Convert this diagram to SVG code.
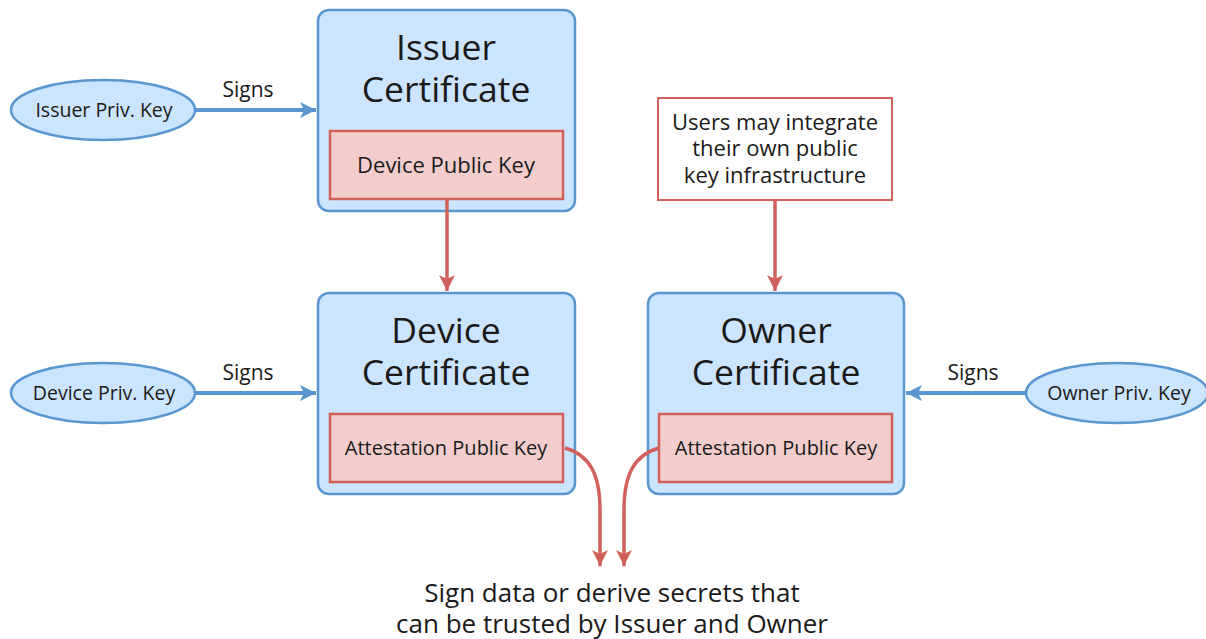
<svg xmlns="http://www.w3.org/2000/svg" width="1206" height="639" viewBox="0 0 1206 639">
<style>
text{font-family:"Open Sans","Noto Sans","DejaVu Sans",sans-serif;fill:#1a1a1a;text-anchor:middle}
.cert{fill:#cce5ff;stroke:#5a96cf;stroke-width:2.5}
.key{fill:#f2cdcc;stroke:#d0605a;stroke-width:2.5}
.note{fill:#fff;stroke:#d0605a;stroke-width:2}
.oval{fill:#cce5ff;stroke:#5a96cf;stroke-width:2.5}
.title{font-size:35.5px}
.inner{font-size:20px}
.small{font-size:19.5px}
.blue{stroke:#5a96cf;stroke-width:4;fill:none}
.red{stroke:#d0605a;stroke-width:3.5;fill:none}
</style>
<defs>
<marker id="ab" markerUnits="userSpaceOnUse" markerWidth="20" markerHeight="20" refX="16" refY="8" orient="auto"><path d="M0,0L16,8L0,16L4,8Z" fill="#5a96cf"/></marker>
<marker id="ar" markerUnits="userSpaceOnUse" markerWidth="20" markerHeight="20" refX="16" refY="8" orient="auto"><path d="M0,0L16,8L0,16L4,8Z" fill="#d0605a"/></marker>
</defs>
<g id="issuer-priv"><ellipse class="oval" cx="103" cy="110" rx="92" ry="30"/><text class="small" x="104" y="117">Issuer Priv. Key</text></g>
<g id="device-priv"><ellipse class="oval" cx="103" cy="393" rx="92" ry="30"/><text class="small" x="104" y="400">Device Priv. Key</text></g>
<g id="owner-priv"><ellipse class="oval" cx="1117" cy="393" rx="91" ry="30"/><text class="small" x="1119" y="400">Owner Priv. Key</text></g>
<g id="issuer-cert">
<rect class="cert" x="318" y="10" width="257" height="201" rx="11"/>
<text class="title" x="446" y="60">Issuer</text>
<text class="title" x="446" y="102">Certificate</text>
<rect class="key" x="330" y="131" width="233" height="68"/>
<text font-size="22" x="446" y="173">Device Public Key</text>
</g>
<g id="device-cert">
<rect class="cert" x="318" y="293" width="257" height="201" rx="11"/>
<text class="title" x="446" y="343">Device</text>
<text class="title" x="446" y="385">Certificate</text>
<rect class="key" x="330" y="414" width="233" height="68"/>
<text class="inner" x="446" y="455">Attestation Public Key</text>
</g>
<g id="owner-cert">
<rect class="cert" x="648" y="293" width="256" height="201" rx="11"/>
<text class="title" x="776" y="343">Owner</text>
<text class="title" x="776" y="385">Certificate</text>
<rect class="key" x="659" y="414" width="233" height="68"/>
<text class="inner" x="776" y="455">Attestation Public Key</text>
</g>
<g id="note">
<rect class="note" x="658" y="98" width="234" height="102"/>
<text font-size="22" x="775" y="130">Users may integrate</text>
<text font-size="22" x="775" y="156">their own public</text>
<text font-size="22" x="775" y="183">key infrastructure</text>
</g>
<g id="result">
<text font-size="26" x="612" y="602">Sign data or derive secrets that</text>
<text font-size="26" x="612" y="633">can be trusted by Issuer and Owner</text>
</g>
<g id="connectors">
<path class="blue" d="M196,110H316" marker-end="url(#ab)"/>
<text font-size="21" x="248" y="97">Signs</text>
<path class="blue" d="M196,393H316" marker-end="url(#ab)"/>
<text font-size="21" x="248" y="380">Signs</text>
<path class="blue" d="M1026,393H906" marker-end="url(#ab)"/>
<text font-size="21" x="973" y="380">Signs</text>
<path class="red" d="M447,199V291" marker-end="url(#ar)"/>
<path class="red" d="M775,200V291" marker-end="url(#ar)"/>
<path class="red" d="M565,448C590,455 600,475 600,510V566" marker-end="url(#ar)"/>
<path class="red" d="M659,448C634,455 624,475 624,510V566" marker-end="url(#ar)"/>
</g>
</svg>
